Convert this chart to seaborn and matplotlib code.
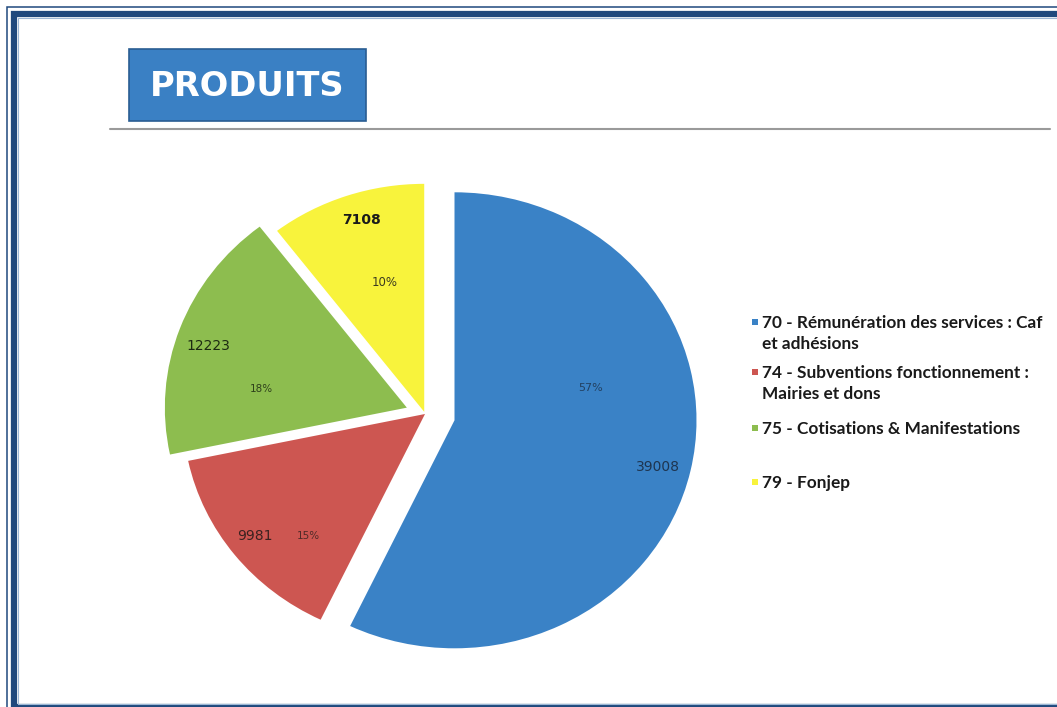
import numpy as np
import matplotlib.pyplot as plt
import matplotlib.patches as mpatches
import seaborn as sns

categories = ['70 - Rémunération des services : Caf\net adhésions',
              '74 - Subventions fonctionnement :\nMairies et dons',
              '75 - Cotisations & Manifestations',
              '79 - Fonjep']
values = [39008, 9981, 12223, 7108]
colors = ['#3a82c6', '#cd5651', '#8dbd4f', '#f8f33c']
explode = [0.125, 0.0, 0.08, 0.01]
title = 'PRODUITS'

sns.set_theme(style='white')
plt.rcParams['font.family'] = ['DejaVu Sans']

W, H = 1057, 707
fig = plt.figure(figsize=(W / 100, H / 100), dpi=100)
fig.patch.set_facecolor('white')

# pie axes, centre around (425, 414) px
ax = fig.add_axes([122.5 / W, 8 / H, 605 / W, 570 / H])
wedges, _ = ax.pie(values, colors=colors, explode=explode, startangle=90,
                   counterclock=False, radius=1, wedgeprops=dict(linewidth=0))
ax.set_aspect('auto')
ax.set_xlim(-1.25, 1.25)
ax.set_ylim(-1.25, 1.25)

# label placement relative to each wedge: (radius fraction, angle offset)
val_pos = [(0.865, -0.8), (0.883, -0.8), (0.865, 2.2), (0.880, -1.7)]
pct_pos = [(0.578, 27), (0.721, 9.8), (0.605, 12.6), (0.589, -2.7)]
val_weight = ['normal', 'normal', 'normal', 'bold']
pct_size = [8, 7.5, 7.5, 8.5]
txt_col = ['#1e3550', '#3a2220', '#1d2a12', '#1a1a1a']
total = sum(values)
for w, v, (rv, dv), (rp, dp), fw, ps, tc in zip(wedges, values, val_pos, pct_pos,
                                                  val_weight, pct_size, txt_col):
    mid = (w.theta1 + w.theta2) / 2
    cx, cy = w.center
    a = np.deg2rad(mid + dv)
    ax.text(cx + rv * np.cos(a), cy + rv * np.sin(a), str(v), ha='center', va='center',
            fontsize=10, fontweight=fw, color=tc)
    a = np.deg2rad(mid + dp)
    ax.text(cx + rp * np.cos(a), cy + rp * np.sin(a), f'{v / total:.0%}', ha='center',
            va='center', fontsize=ps, color=tc, alpha=0.85)

# legend, marker sits on the first line of each entry
leg_y = [322, 372, 428, 482]
line_gap = 21
for lab, col, y in zip(categories, colors, leg_y):
    fig.add_artist(mpatches.Rectangle((752 / W, 1 - (y + 3) / H), 6 / W, 6 / H,
                                      transform=fig.transFigure, facecolor=col,
                                      edgecolor='none'))
    n = lab.count('\n')
    fig.text(762 / W, 1 - (y + 6 + n * line_gap) / H, lab, ha='left', va='baseline',
             family='Lato', fontweight='bold', fontsize=12.4, color='#1a1a1a',
             linespacing=1.35)

# title box
fig.add_artist(mpatches.Rectangle((129 / W, 1 - 121 / H), 237 / W, 72 / H,
                                  transform=fig.transFigure, facecolor='#3a80c4',
                                  edgecolor='#2a5d92', linewidth=1.2))
fig.text(247 / W, 1 - 86 / H, title, color='white', fontweight='bold', fontsize=24.3,
         ha='center', va='center')
fig.add_artist(plt.Line2D([110 / W, 1050 / W], [1 - 129 / H] * 2, color='#9a9a9a', lw=1.5,
                          transform=fig.transFigure))

# page frame
fig.add_artist(mpatches.Rectangle((6.6 / W, -0.1), 1.2, 1 - 6.6 / H + 0.1, transform=fig.transFigure,
                                  fill=False, edgecolor='#1f497d', linewidth=1.1))
fig.add_artist(mpatches.Rectangle((14.2 / W, 1 - 706.5 / H), 1.2, (706.5 - 14.2) / H,
                                  transform=fig.transFigure, fill=False,
                                  edgecolor='#1f497d', linewidth=4.5))
fig.add_artist(mpatches.Rectangle((18 / W, 1 - 703.5 / H), 1.2, (703.5 - 18) / H,
                                  transform=fig.transFigure, fill=False,
                                  edgecolor='#9db8d6', linewidth=0.8))

fig.savefig('out.png', dpi=100)
